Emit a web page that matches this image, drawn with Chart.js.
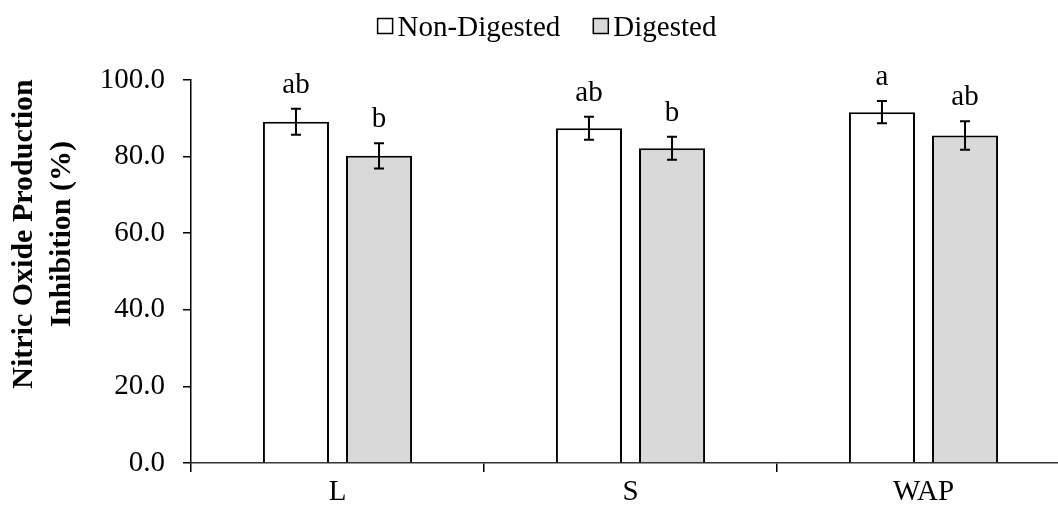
<!DOCTYPE html>
<html>
<head>
<meta charset="utf-8">
<script src="https://cdn.jsdelivr.net/npm/chart.js@4.4.1/dist/chart.umd.min.js"></script>
<style>
  body { margin: 0; background: #fff; overflow: hidden; }
  #wrap { width: 1075px; height: 508px; }
</style>
</head>
<body>
<div id="wrap"><canvas id="myChart" width="1075" height="508"></canvas></div>
<script>
// data
const categories = ['L', 'S', 'WAP'];
const nonDigested = [89.1, 87.4, 91.6];
const digested = [80.2, 82.2, 85.5];
const nonDigestedErr = [3.4, 3.0, 2.9];
const digestedErr = [3.3, 3.0, 3.7];
const nonDigestedLetters = ['ab', 'ab', 'a'];
const digestedLetters = ['b', 'b', 'ab'];
const yTicks = [0, 20, 40, 60, 80, 100];

const serif = '"Liberation Serif", "Times New Roman", serif';

// error bars + letters over each bar
const errorBars = {
  id: 'errorBars',
  afterDatasetsDraw(chart) {
    const ctx = chart.ctx;
    const y = chart.scales.y;
    chart.data.datasets.forEach((ds, i) => {
      const meta = chart.getDatasetMeta(i);
      meta.data.forEach((bar, j) => {
        const v = ds.data[j];
        const e = ds.errors[j];
        const top = y.getPixelForValue(v + e);
        const bot = y.getPixelForValue(v - e);
        ctx.save();
        ctx.strokeStyle = '#000';
        ctx.lineWidth = 2;
        ctx.beginPath();
        ctx.moveTo(bar.x, top); ctx.lineTo(bar.x, bot);
        ctx.moveTo(bar.x - 5, top); ctx.lineTo(bar.x + 5, top);
        ctx.moveTo(bar.x - 5, bot); ctx.lineTo(bar.x + 5, bot);
        ctx.stroke();
        ctx.fillStyle = '#000';
        ctx.font = '29px ' + serif;
        ctx.textAlign = 'center';
        ctx.textBaseline = 'alphabetic';
        ctx.fillText(ds.letters[j], bar.x, top - 16);
        ctx.restore();
      });
    });
  }
};

// legend and y title drawn by hand to get the spacing of the original
const extras = {
  id: 'extras',
  afterDraw(chart) {
    const ctx = chart.ctx;
    ctx.save();
    ctx.font = '29px ' + serif;
    ctx.textBaseline = 'middle';
    ctx.textAlign = 'left';
    const box = 15, gap = 5, itemGap = 33;
    const items = chart.data.datasets.map(d => ({ text: d.label, fill: d.backgroundColor }));
    let total = 0;
    items.forEach((it, k) => {
      it.w = box + gap + ctx.measureText(it.text).width;
      total += it.w + (k ? itemGap : 0);
    });
    let x = 547 - total / 2;
    const cy = 26;
    items.forEach(it => {
      ctx.fillStyle = it.fill;
      ctx.fillRect(x, cy - box / 2, box, box);
      ctx.strokeStyle = '#000';
      ctx.lineWidth = 1.5;
      ctx.strokeRect(x, cy - box / 2, box, box);
      ctx.fillStyle = '#000';
      ctx.fillText(it.text, x + box + gap, cy + 2);
      x += it.w + itemGap;
    });

    ctx.translate(0, 234);
    ctx.rotate(-Math.PI / 2);
    ctx.font = 'bold 30px ' + serif;
    ctx.textAlign = 'center';
    ctx.fillText('Nitric Oxide Production', 0, 24);
    ctx.fillText('Inhibition (%)', 0, 62);
    ctx.restore();
  }
};

const data = {
  labels: categories,
  datasets: [{
    label: 'Non-Digested',
    data: nonDigested,
    errors: nonDigestedErr,
    letters: nonDigestedLetters,
    backgroundColor: '#ffffff',
    borderColor: '#000000',
    borderWidth: 2
  }, {
    label: 'Digested',
    data: digested,
    errors: digestedErr,
    letters: digestedLetters,
    backgroundColor: '#d9d9d9',
    borderColor: '#000000',
    borderWidth: 2
  }]
};

const config = {
  type: 'bar',
  data: data,
  options: {
    responsive: false,
    animation: false,
    barPercentage: 0.795,
    categoryPercentage: 0.567,
    layout: { padding: { top: 80, right: 5, left: 0, bottom: 0 } },
    scales: {
      x: {
        offset: true,
        afterFit: s => { s.height = 45; },
        grid: {
          offset: true,
          drawOnChartArea: false,
          tickLength: 9,
          color: '#000',
          lineWidth: 1.5
        },
        border: { color: '#333', width: 1.5 },
        ticks: { color: '#000', padding: 3, font: { family: serif, size: 29 } }
      },
      y: {
        min: 0,
        max: 100,
        afterFit: s => { s.width = 191; },
        afterBuildTicks: s => { s.ticks = yTicks.map(v => ({ value: v })); },
        grid: {
          drawOnChartArea: false,
          tickLength: 8,
          color: '#000',
          lineWidth: 1.5
        },
        border: { color: '#000', width: 1.5 },
        ticks: {
          color: '#000',
          padding: 18,
          font: { family: serif, size: 29 },
          callback: v => v.toFixed(1)
        }
      }
    },
    plugins: {
      legend: { display: false },
      tooltip: { enabled: false }
    }
  },
  plugins: [errorBars, extras]
};

const myChart = new Chart(document.getElementById('myChart'), config);
</script>
</body>
</html>
